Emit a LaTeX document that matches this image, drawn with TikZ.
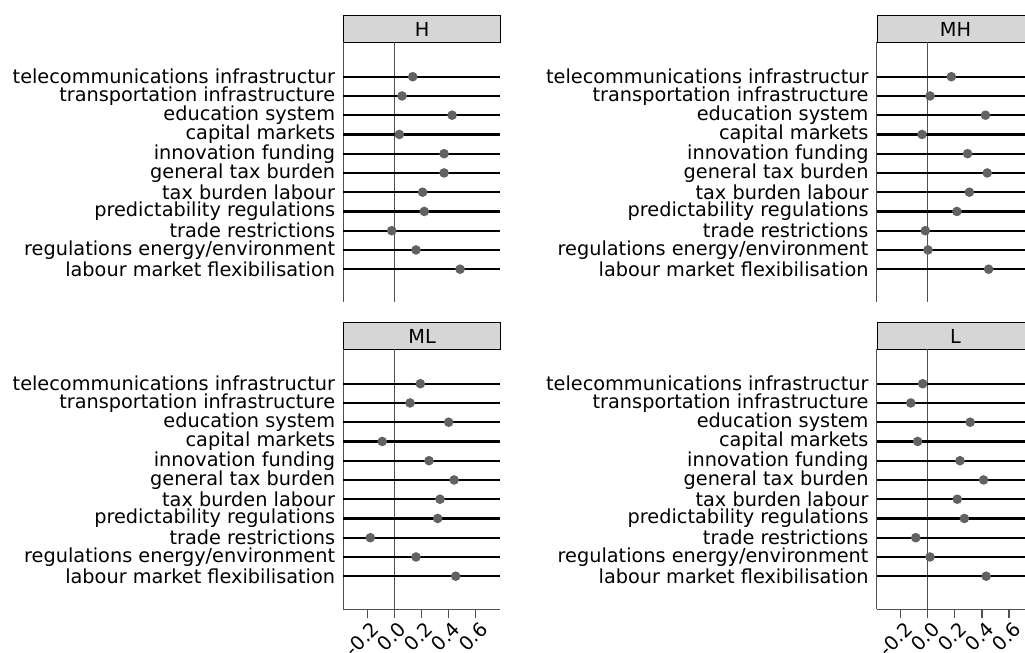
\documentclass[tikz,border=0pt]{standalone}
\usepackage{fontspec}
\setmainfont{DejaVu Sans}
\definecolor{stripgray}{HTML}{D6D6D6}
\definecolor{dotgray}{HTML}{626262}
\definecolor{axgray}{HTML}{505050}
\begin{document}
\begin{tikzpicture}[x=1pt,y={(0pt,-1pt)},
  rowlab/.style={anchor=east, inner sep=0pt, font=\fontsize{19.3}{20}\selectfont},
  striplab/.style={draw=black, line width=1pt, fill=stripgray, minimum width=156.7pt, minimum height=27.3pt, inner sep=0pt, font=\fontsize{19.3}{20}\selectfont},
  refline/.style={draw=axgray, line width=1.3pt},
  rowline/.style={draw=black, line width=2.3pt},
  dotmark/.style={circle, fill=dotgray, inner sep=0pt, minimum size=9.6pt},
  ticklab/.style={rotate=45, anchor=north east, inner sep=0pt, font=\fontsize{19.3}{19.3}\selectfont},
  tickline/.style={draw=axgray, line width=1.3pt}]
\clip (0,0) rectangle (1025,653);
\fill[white] (0,0) rectangle (1025,653);
\foreach \nm/\lx/\ty/\vals/\ax in {
  H/343.3/15/{0.136,0.057,0.426,0.037,0.367,0.367,0.209,0.221,-0.019,0.160,0.485}/0,
  MH/876.7/15/{0.174,0.017,0.426,-0.042,0.294,0.439,0.307,0.215,-0.018,0.002,0.449}/0,
  ML/343.3/322/{0.192,0.116,0.401,-0.089,0.256,0.441,0.337,0.320,-0.177,0.160,0.453}/1,
  L/876.7/322/{-0.037,-0.125,0.313,-0.074,0.238,0.412,0.218,0.270,-0.088,0.017,0.431}/1}{
  \pgfmathsetmacro{\ptop}{\ty+27.3}
  \pgfmathsetmacro{\pbot}{\ptop+260}
  \pgfmathsetmacro{\zx}{\lx+51}
  \node[striplab, anchor=north west] (strip-\nm) at (\lx,\ty) {\nm};
  \draw[refline] (\lx,\ptop) -- (\lx,\pbot);
  \draw[refline] (\zx,\ptop) -- (\zx,\pbot);
  \foreach \lab [count=\i] in {{telecommunications infrastructur},{transportation infrastructure},{education system},{capital markets},{innovation funding},{general tax burden},{tax burden labour},{predictability regulations},{trade restrictions},{regulations energy/environment},{labour market flexibilisation}}{
    \pgfmathsetmacro{\yy}{\ptop+34.4+(\i-1)*19.25}
    \node[rowlab] (lab-\nm-\i) at ({\lx-8},\yy) {\lab};
    \draw[rowline] (\lx,\yy) -- ({\lx+156.7},\yy);
  }
  \foreach \v [count=\i] in \vals {
    \pgfmathsetmacro{\yy}{\ptop+34.4+(\i-1)*19.25}
    \node[dotmark] (dot-\nm-\i) at ({\zx+\v*135.6},\yy) {};
  }
  \ifnum\ax=1
    \draw[refline] (\lx,\pbot) -- ({\lx+156.7},\pbot);
    \foreach \t/\tl [count=\j] in {-0.2/-0.2,0.0/0.0,0.2/0.2,0.4/0.4,0.6/0.6}{
      \pgfmathsetmacro{\tx}{\zx+\t*135.6}
      \draw[tickline] (\tx,\pbot) -- (\tx,{\pbot+9});
      \node[ticklab] (tk-\nm-\j) at ({\tx+3},{\pbot+11}) {\tl};
    }
  \fi
}
\end{tikzpicture}
\end{document}
